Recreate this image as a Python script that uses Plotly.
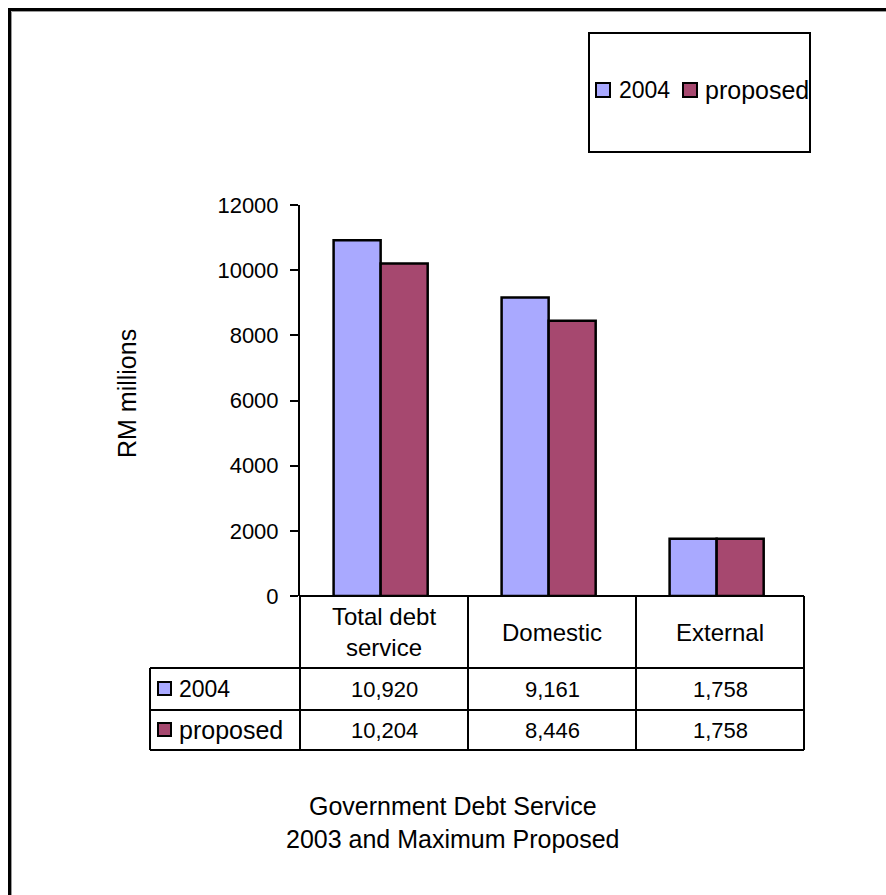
import plotly.graph_objects as go

# ---- data ----
categories = ["Total debt<br>service", "Domestic", "External"]
series_names = ["2004", "proposed"]
values_2004 = [10920, 9161, 1758]
values_proposed = [10204, 8446, 1758]
y_ticks = [0, 2000, 4000, 6000, 8000, 10000, 12000]

colors = {"2004": "#A9A9FF", "proposed": "#A6486F"}

W, H = 886, 895
FONT = "Liberation Sans, Arial, sans-serif"


def X(px):
    return px / W


def Y(py):
    return 1 - py / H


def label_size(text):
    # digits in this face run narrower than letters
    return 23 if text.isdigit() else 25


# plot area in pixels
PL, PR, PT, PB = 300, 804, 205, 596

fig = go.Figure()
for name, vals in zip(series_names, [values_2004, values_proposed]):
    fig.add_trace(go.Bar(
        x=categories, y=vals, name=name,
        marker=dict(color=colors[name], line=dict(color="black", width=2.5)),
        showlegend=False, hoverinfo="x+y+name",
    ))

shapes = []
annotations = []

# outer frame
shapes.append(dict(type="rect", xref="paper", yref="paper",
                   x0=X(9.5), x1=X(920), y0=Y(9.5), y1=Y(930),
                   line=dict(color="black", width=3)))
shapes.append(dict(type="rect", xref="paper", yref="paper",
                   x0=X(11.5), x1=X(920), y0=Y(11.5), y1=Y(930),
                   line=dict(color="#9a9a9a", width=1)))

# legend box
shapes.append(dict(type="rect", xref="paper", yref="paper",
                   x0=X(589), x1=X(810), y0=Y(33), y1=Y(152),
                   line=dict(color="black", width=2)))
leg_items = [(596, 617, "2004"), (683, 703, "proposed")]
for sx, tx, name in leg_items:
    shapes.append(dict(type="rect", xref="paper", yref="paper",
                       x0=X(sx), x1=X(sx + 14), y0=Y(83), y1=Y(97),
                       fillcolor=colors[name], line=dict(color="black", width=2)))
    annotations.append(dict(xref="paper", yref="paper", x=X(tx), y=Y(90),
                            text=name, showarrow=False, xanchor="left",
                            yanchor="middle",
                            font=dict(size=label_size(name), color="black", family=FONT)))

# data table grid
TL, R1, R2, R3 = 150, 668, 710, 750
col_edges = [300, 468, 636, 804]
line_kw = dict(color="black", width=2)
# horizontal lines
shapes.append(dict(type="line", xref="paper", yref="paper",
                   x0=X(300), x1=X(804), y0=Y(PB), y1=Y(PB), line=line_kw))
for yy in (R1, R2, R3):
    shapes.append(dict(type="line", xref="paper", yref="paper",
                       x0=X(TL), x1=X(804), y0=Y(yy), y1=Y(yy), line=line_kw))
# vertical lines
for xx in col_edges:
    shapes.append(dict(type="line", xref="paper", yref="paper",
                       x0=X(xx), x1=X(xx), y0=Y(PB), y1=Y(R3), line=line_kw))
shapes.append(dict(type="line", xref="paper", yref="paper",
                   x0=X(TL), x1=X(TL), y0=Y(R1), y1=Y(R3), line=line_kw))

# header cells
for i, cat in enumerate(categories):
    cx = (col_edges[i] + col_edges[i + 1]) / 2
    annotations.append(dict(xref="paper", yref="paper", x=X(cx), y=Y(632),
                            text=cat, showarrow=False, xanchor="center",
                            yanchor="middle",
                            font=dict(size=24, color="black", family=FONT)))

# value rows
row_centers = [(R1 + R2) / 2, (R2 + R3) / 2]
for r, (name, vals) in enumerate(zip(series_names, [values_2004, values_proposed])):
    cy = row_centers[r]
    shapes.append(dict(type="rect", xref="paper", yref="paper",
                       x0=X(158), x1=X(171), y0=Y(cy - 7), y1=Y(cy + 6),
                       fillcolor=colors[name], line=dict(color="black", width=2)))
    annotations.append(dict(xref="paper", yref="paper", x=X(177), y=Y(cy),
                            text=name, showarrow=False, xanchor="left",
                            yanchor="middle",
                            font=dict(size=label_size(name), color="black", family=FONT)))
    for i, v in enumerate(vals):
        cx = (col_edges[i] + col_edges[i + 1]) / 2
        annotations.append(dict(xref="paper", yref="paper", x=X(cx), y=Y(cy),
                                text=f"{v:,}", showarrow=False, xanchor="center",
                                yanchor="middle",
                                font=dict(size=22, color="black", family=FONT)))

# y-axis title
annotations.append(dict(xref="paper", yref="paper", x=X(127), y=Y(394),
                        text="RM millions", showarrow=False, textangle=-90,
                        xanchor="center", yanchor="middle",
                        font=dict(size=25, color="black", family=FONT)))

# chart title below table
annotations.append(dict(xref="paper", yref="paper", x=X(453), y=Y(822),
                        text="Government Debt Service<br>2003 and Maximum Proposed",
                        showarrow=False, xanchor="center", yanchor="middle",
                        font=dict(size=25, color="black", family=FONT)))

fig.update_layout(
    width=W, height=H,
    margin=dict(l=0, r=0, t=0, b=0, pad=0, autoexpand=False),
    paper_bgcolor="white", plot_bgcolor="white",
    barmode="group", bargap=0.44, bargroupgap=0,
    xaxis=dict(domain=[X(PL), X(PR)], range=[-0.48, 2.52], automargin=False,
               showticklabels=False, showgrid=False, zeroline=False,
               showline=False, ticks=""),
    yaxis=dict(domain=[Y(PB), Y(PT)], range=[0, 12000], automargin=False,
               tickvals=y_ticks, ticktext=[str(t) for t in y_ticks],
               showgrid=False, zeroline=False,
               showline=True, linecolor="black", linewidth=2,
               ticks="outside", ticklen=8, tickwidth=2, tickcolor="black",
               ticklabelstandoff=7,
               tickfont=dict(size=22, color="black", family=FONT)),
    shapes=shapes, annotations=annotations,
    font=dict(family=FONT, color="black"),
)

fig.write_html("out.html")
